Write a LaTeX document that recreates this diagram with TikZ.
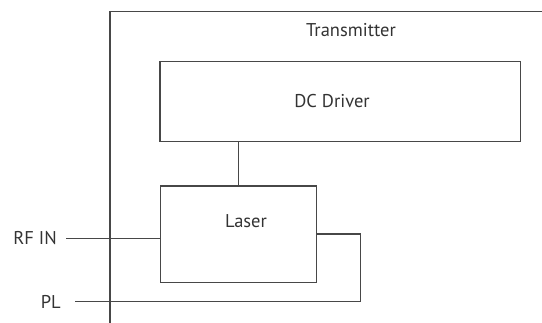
\documentclass[tikz,border=0pt]{standalone}
\usepackage{fontspec}
\setmainfont{PT Sans}
\begin{document}
\begin{tikzpicture}[x=1pt,y=-1pt,
  line/.style={draw=black!72,line width=1.1pt},
  box/.style={line,rectangle,inner sep=0pt},
  lbl/.style={font=\fontsize{18.5}{21}\selectfont,text=black!80,inner sep=0pt}]
\useasboundingbox (0,0) rectangle (542,323);
% transmitter enclosure
\coordinate (tbl) at (110,323);
\coordinate (ttl) at (110,11.4);
\coordinate (ttr) at (542,11.4);
\draw[line] (tbl) -- (ttl) -- (ttr);
\node[lbl] (ttext) at (351,30) {Transmitter};
% DC driver
\node[box,minimum width=360.6pt,minimum height=80.2pt] (dc) at (340.3,101.6) {};
\node[lbl] (dctext) at (332,101) {DC Driver};
% Laser
\node[box,minimum width=156.3pt,minimum height=96.7pt] (laser) at (238.2,234.4) {};
\node[lbl] (lasertext) at (246,221) {Laser};
% DC -> laser
\draw[line] (dc.south -| 238.5,0) -- (laser.north -| 238.5,0);
% RF IN
\node[lbl,anchor=east] (rfin) at (57,238.5) {RF IN};
\coordinate (rfs) at (66.4,238.5);
\draw[line] (rfs) -- (rfs -| laser.west);
% PL
\node[lbl,anchor=east] (pl) at (61,302) {PL};
\coordinate (pls) at (75.4,301.8);
\coordinate (lo) at (360.5,234);
\draw[line] (lo -| laser.east) -- (lo) -- (lo |- pls) -- (pls);
\end{tikzpicture}
\end{document}
